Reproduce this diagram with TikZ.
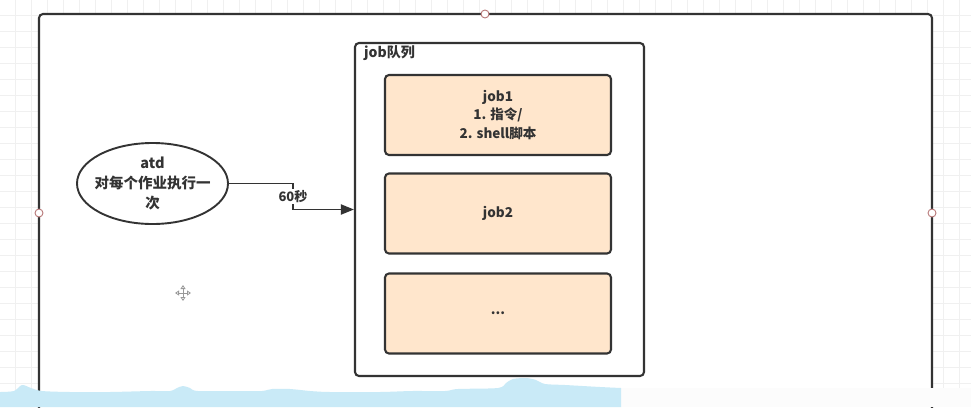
\documentclass[tikz,border=0pt]{standalone}
\usepackage{fontspec}
\setmainfont{Noto Sans CJK SC}
\usetikzlibrary{arrows.meta,shapes.geometric}

\definecolor{ink}{HTML}{333333}
\definecolor{jobfill}{HTML}{FFE6CC}
\definecolor{gridgray}{HTML}{F0F0F0}
\definecolor{handle}{HTML}{B87878}
\definecolor{paper}{HTML}{C9EAF7}

\tikzset{
  gridline/.style={draw=gridgray, line width=0.8pt},
  canvasframe/.style={draw=ink, line width=2.1pt, fill=white, rounded corners=4pt},
  grip/.style={circle, draw=handle, fill=white, line width=0.9pt, minimum size=8pt, inner sep=0pt},
  proc/.style={ellipse, draw=ink, line width=1.9pt, fill=white, minimum width=151pt,
    minimum height=81pt, inner sep=0pt},
  proctext/.style={inner sep=0pt, align=center, text=ink,
    font=\fontsize{14.5}{20}\selectfont\bfseries},
  queuebox/.style={draw=ink, line width=2.1pt, fill=white, rounded corners=4pt,
    minimum width=289pt, minimum height=333pt, inner sep=0pt},
  jobbox/.style={draw=ink, line width=2.1pt, fill=jobfill, rounded corners=4pt,
    minimum width=226pt, minimum height=80pt, inner sep=0pt, align=center, text=ink,
    font=\fontsize{13.5}{18.5}\selectfont\bfseries},
  title/.style={anchor=north west, inner sep=0pt, text=ink, font=\fontsize{14}{16}\selectfont\bfseries},
  conn/.style={draw=ink, line width=1.9pt, -{Triangle[length=13pt, width=10pt]}},
  lbl/.style={fill=white, inner sep=1pt, text=ink, font=\fontsize{13}{15}\selectfont\bfseries},
}

\begin{document}
\begin{tikzpicture}[x=1pt, y=-1pt]
  \useasboundingbox (0,0) rectangle (971,407);
  \clip (0,0) rectangle (971,407);

  % background grid
  \fill[white] (0,0) rectangle (971,407);
  \foreach \gx in {-1,15,...,975} \draw[gridline] (\gx,0) -- (\gx,407);
  \foreach \gy in {-1,15,...,411} \draw[gridline] (0,\gy) -- (971,\gy);

  % selected canvas frame (runs off the bottom edge)
  \path[canvasframe] (39,440) -- (39,14) -- (932,14) -- (932,440) -- cycle;

  % selection handles
  \node[grip] (gtop)   at (485,14)  {};
  \node[grip] (gleft)  at (39,213)  {};
  \node[grip] (gright) at (932,213) {};

  % scheduler
  \node[proc] (atd) at (152.5,183.5) {};
  \node[proctext] (atdtext) at (atd.center) {atd\\对每个作业执行一\\次};

  % job queue
  \node[queuebox] (queue) at (499.5,209.5) {};
  \node[title] (qtitle) at (364,45) {job队列};

  \node[jobbox] (job1) at (498,115) {job1\\1. 指令/\\2. shell脚本};
  \node[jobbox] (job2) at (498,213.5) {job2};
  \node[jobbox] (job3) at (498,313.5) {...};

  % dispatch every 60 seconds
  \draw[conn] (atd.east) -- ++(64,0) coordinate (elbow)
    |- node[pos=0.25, lbl] (every) {60秒} (queue.west);

  % move cursor
  \begin{scope}[draw=gray!80, line width=0.8pt, {Triangle[open,length=4pt,width=5pt]}-{Triangle[open,length=4pt,width=5pt]}]
    \draw (175,293) -- (191,293);
    \draw (183,285) -- (183,301);
  \end{scope}

  % torn paper strip along the bottom
  \fill[gray!2] (621,388) rectangle (971,407);
  \fill[paper] plot[smooth, tension=0.5] coordinates {
      (0,392) (14,391) (22,385) (31,388) (42,391) (70,392) (110,392) (150,391)
      (170,391) (177,388) (183,386) (190,388) (198,391) (240,391) (262,391)
      (272,389) (290,389) (310,391) (330,392) (380,392) (412,391) (445,391)
      (458,389) (498,388) (506,383) (513,379) (526,378) (536,380) (545,384)
      (565,385) (600,387) (621,388)}
    -- (621,407) -- (0,407) -- cycle;
\end{tikzpicture}
\end{document}
